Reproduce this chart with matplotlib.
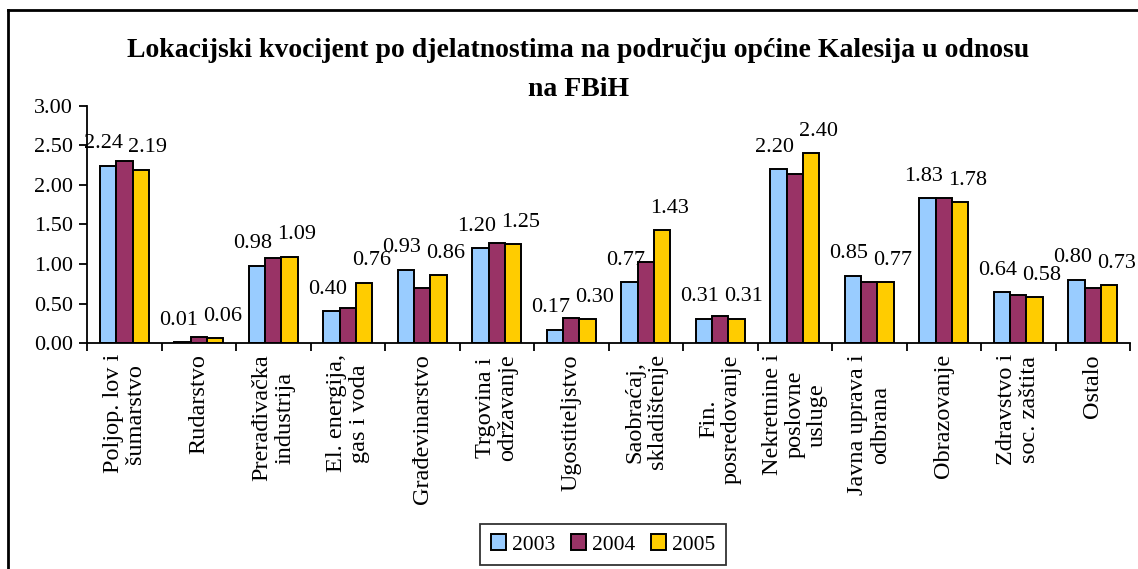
import matplotlib.pyplot as plt
import numpy as np
from matplotlib.lines import Line2D
from matplotlib.patches import Patch

plt.rcParams["font.family"] = ["Liberation Serif", "DejaVu Serif"]

categories = [
    "Poljop. lov i\nšumarstvo", "Rudarstvo", "Prerađivačka\nindustrija",
    "El. energija,\ngas i voda", "Građevinarstvo", "Trgovina i\nodržavanje",
    "Ugostiteljstvo", "Saobraćaj,\nskladištenje", "Fin.\nposredovanje",
    "Nekretnine i\nposlovne\nusluge", "Javna uprava i\nodbrana",
    "Obrazovanje", "Zdravstvo i\nsoc. zaštita", "Ostalo",
]
years = ["2003", "2004", "2005"]
v2003 = [2.24, 0.01, 0.98, 0.40, 0.93, 1.20, 0.17, 0.77, 0.31, 2.20, 0.85, 1.83, 0.64, 0.80]
v2004 = [2.30, 0.08, 1.08, 0.44, 0.70, 1.27, 0.32, 1.02, 0.34, 2.14, 0.77, 1.83, 0.61, 0.70]
v2005 = [2.19, 0.06, 1.09, 0.76, 0.86, 1.25, 0.30, 1.43, 0.31, 2.40, 0.77, 1.78, 0.58, 0.73]
labelled = [True, False, True]  # 2004 has no data labels in the original
colors = ["#99CCFF", "#993366", "#FFCC00"]
yticks = [0.0, 0.5, 1.0, 1.5, 2.0, 2.5, 3.0]

fig = plt.figure(figsize=(11.38, 5.69), dpi=100)
ax = fig.add_axes([0.0765, 0.397, 0.9165, 0.417])

x = np.arange(len(categories))
w = 0.22
nudge = [-3, 0, 5]  # labels pushed slightly apart, as in the Excel original
for i, (vals, col) in enumerate(zip([v2003, v2004, v2005], colors)):
    pos = x + (i - 1) * w
    bars = ax.bar(pos, vals, w, color=col, edgecolor="black", linewidth=1.4, label=years[i])
    if labelled[i]:
        for b, v in zip(bars, vals):
            ax.annotate(f"{v:.2f}", (b.get_x() + b.get_width() / 2, v),
                        xytext=(nudge[i], 9), textcoords="offset points",
                        ha="center", va="bottom", fontsize=16)

ax.set_xlim(-0.5, len(categories) - 0.5)
ax.set_ylim(0, 3.0)
ax.set_yticks(yticks, labels=[f"{t:.2f}" for t in yticks], fontsize=16)
ax.set_xticks(x, labels=categories, rotation=90, fontsize=17.5,
              ha="center", va="top", multialignment="center", linespacing=1.1)
ax.set_xticks(np.arange(len(categories) + 1) - 0.5, minor=True)
ax.tick_params(axis="x", which="major", length=0, pad=8)
ax.tick_params(axis="x", which="minor", length=6, width=1.3, direction="out")
ax.tick_params(axis="y", length=6, width=1.3, direction="out", pad=4)
for s in ["top", "right"]:
    ax.spines[s].set_visible(False)
for s in ["left", "bottom"]:
    ax.spines[s].set_linewidth(1.3)

fig.text(0.508, 0.912, "Lokacijski kvocijent po djelatnostima na području općine Kalesija u odnosu",
         ha="center", va="center", fontsize=20, fontweight="bold")
fig.text(0.508, 0.842, "na FBiH", ha="center", va="center", fontsize=20, fontweight="bold")

handles = [Patch(facecolor=c, edgecolor="black", linewidth=1.4) for c in colors]
leg = fig.legend(handles, years, loc="center", bbox_to_anchor=(0.530, 0.043),
                 ncol=3, fontsize=15.5, frameon=True, fancybox=False,
                 handlelength=0.7, handleheight=0.7, handletextpad=0.3,
                 columnspacing=0.7, borderpad=0.5, edgecolor="black")
leg.get_frame().set_linewidth(1.3)

# outer chart border (only top and left visible in the crop)
fig.add_artist(Line2D([8 / 1138, 1.0], [1 - 10 / 569] * 2, color="black", lw=2, transform=fig.transFigure))
fig.add_artist(Line2D([8 / 1138] * 2, [0, 1 - 10 / 569], color="black", lw=2, transform=fig.transFigure))

fig.savefig("out.png", dpi=100, facecolor="white")
